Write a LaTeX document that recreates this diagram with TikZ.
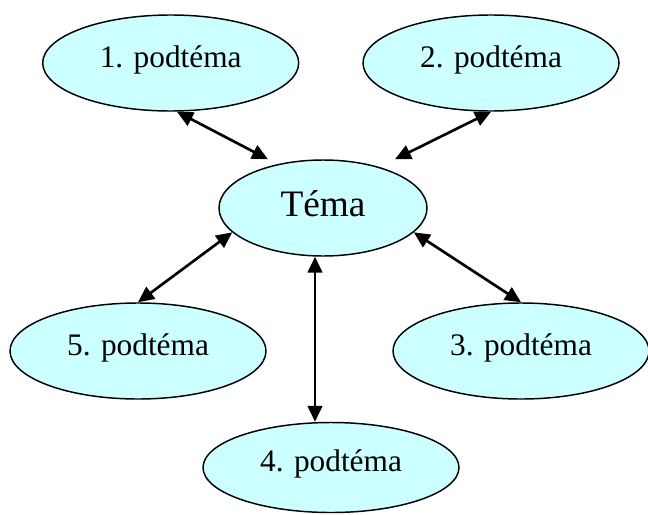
\documentclass[tikz,border=0pt]{standalone}
\usepackage{fontspec}
\setmainfont{Liberation Serif}
\usetikzlibrary{arrows.meta,shapes.geometric}
\definecolor{temafill}{RGB}{204,255,255}

\begin{document}
\begin{tikzpicture}[x=0.75pt,y=0.75pt,yscale=-1,xscale=1,
    podtema/.style={ellipse,draw,line width=1.1pt,fill=temafill,inner sep=0pt,
        minimum width=192pt,minimum height=72pt,
        font=\fontsize{23.5}{28}\selectfont,text height=14pt,text depth=8pt},
    hlavni/.style={podtema,minimum width=156pt,
        font=\fontsize{28}{33}\selectfont,text height=22pt,text depth=10pt},
    obousm/.style={{Triangle[length=12pt,width=11pt]}-{Triangle[length=12pt,width=11pt]},line width=2pt}]
    %set diagram size
    \useasboundingbox (0,0) rectangle (648,514);

    %Shape: Ellipse [id:tema]
    \node[hlavni] (tema) at (323,208) {Téma};
    %Shape: Ellipse [id:p1]
    \node[podtema] (p1) at (170.7,63) {1. podtéma};
    %Shape: Ellipse [id:p2]
    \node[podtema] (p2) at (491,63) {2. podtéma};
    %Shape: Ellipse [id:p3]
    \node[podtema] (p3) at (521,351) {3. podtéma};
    %Shape: Ellipse [id:p4]
    \node[podtema,minimum height=67.5pt] (p4) at (331,467.5) {4. podtéma};
    %Shape: Ellipse [id:p5]
    \node[podtema] (p5) at (138,351) {5. podtéma};

    %Straight Lines [id:s1]
    \draw[obousm] ([xshift=4.7pt]p1.south) -- ([xshift=-41.25pt]tema.north);
    %Straight Lines [id:s2]
    \draw[obousm] (p2.south) -- ([xshift=54pt]tema.north);
    %Straight Lines [id:s3]
    \draw[obousm] (tema.345) -- (p3.north);
    %Straight Lines [id:s4]
    \draw[obousm] ([xshift=-6pt]tema.south) -- ([xshift=-6pt]tema.south |- p4.north);
    %Straight Lines [id:s5]
    \draw[obousm] (tema.195) -- (p5.north);
\end{tikzpicture}
\end{document}
